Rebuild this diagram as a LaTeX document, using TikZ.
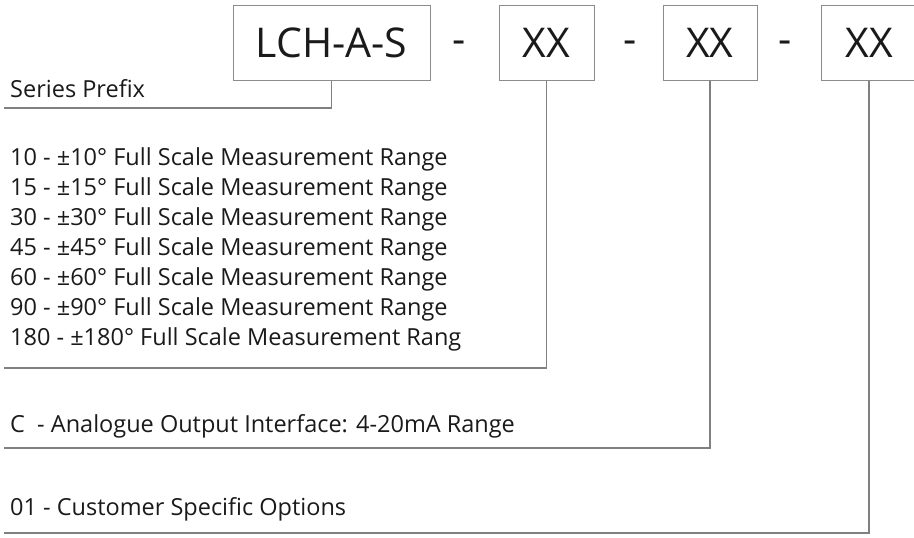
\documentclass[tikz,border=0pt]{standalone}
\usepackage{fontspec}
\setmainfont{Open Sans}
\definecolor{boxgray}{HTML}{8C8C8C}
\definecolor{linegray}{HTML}{808080}
\definecolor{txt}{HTML}{1A1A1A}
\begin{document}
\begin{tikzpicture}[x=1pt,y=-1pt,
  codebox/.style={draw=boxgray, line width=1pt, fill=white, inner sep=0pt, minimum height=75pt,
    text=txt, font=\fontsize{41}{48}\selectfont, text height=30pt, text depth=0pt},
  sepdash/.style={inner sep=0pt, text=txt, font=\fontsize{41}{48}\selectfont},
  desc/.style={anchor=base west, inner sep=0pt, text=txt, font=\fontsize{23.5}{28}\selectfont},
  conn/.style={draw=linegray, line width=1.4pt}]
\useasboundingbox (0,0) rectangle (914,538);
\clip (0,0) rectangle (914,538);
\fill[white] (0,0) rectangle (914,538);

% end points of connectors
\coordinate (e1) at (4,108);
\coordinate (e2) at (4,368);
\coordinate (e3) at (4,448);
\coordinate (e4) at (4,533);

% code boxes
\node[codebox, minimum width=197pt] (pfx) at (331.5,42.5) {LCH-A-S};
\node[sepdash] (d1) at (459,47) {-};
\node[codebox, minimum width=95pt] (rng) at (546.5,42.5) {XX};
\node[sepdash] (d2) at (630,47) {-};
\node[codebox, minimum width=94pt] (out) at (710,42.5) {XX};
\node[sepdash] (d3) at (785,47) {-};
\node[codebox, minimum width=96pt] (opt) at (869,42.5) {XX};

% connectors
\draw[conn] (pfx.south) |- (e1);
\draw[conn] (rng.south) |- (e2);
\draw[conn] (out.south) |- (e3);
\draw[conn] (opt.south) |- (e4);

% descriptions
\node[desc] (t0) at (10,97) {Series Prefix};
\node[desc] (t1) at (10,165) {10 - ±10° Full Scale Measurement Range};
\node[desc] (t2) at (10,195) {15 - ±15° Full Scale Measurement Range};
\node[desc] (t3) at (10,225) {30 - ±30° Full Scale Measurement Range};
\node[desc] (t4) at (10,255) {45 - ±45° Full Scale Measurement Range};
\node[desc] (t5) at (10,285) {60 - ±60° Full Scale Measurement Range};
\node[desc] (t6) at (10,315) {90 - ±90° Full Scale Measurement Range};
\node[desc] (t7) at (10,345) {180 - ±180° Full Scale Measurement Rang};
\node[desc] (t8) at (10,432) {C\ \ - Analogue Output Interface: 4-20mA Range};
\node[desc] (t9) at (10,515) {01 - Customer Specific Options};
\end{tikzpicture}
\end{document}
